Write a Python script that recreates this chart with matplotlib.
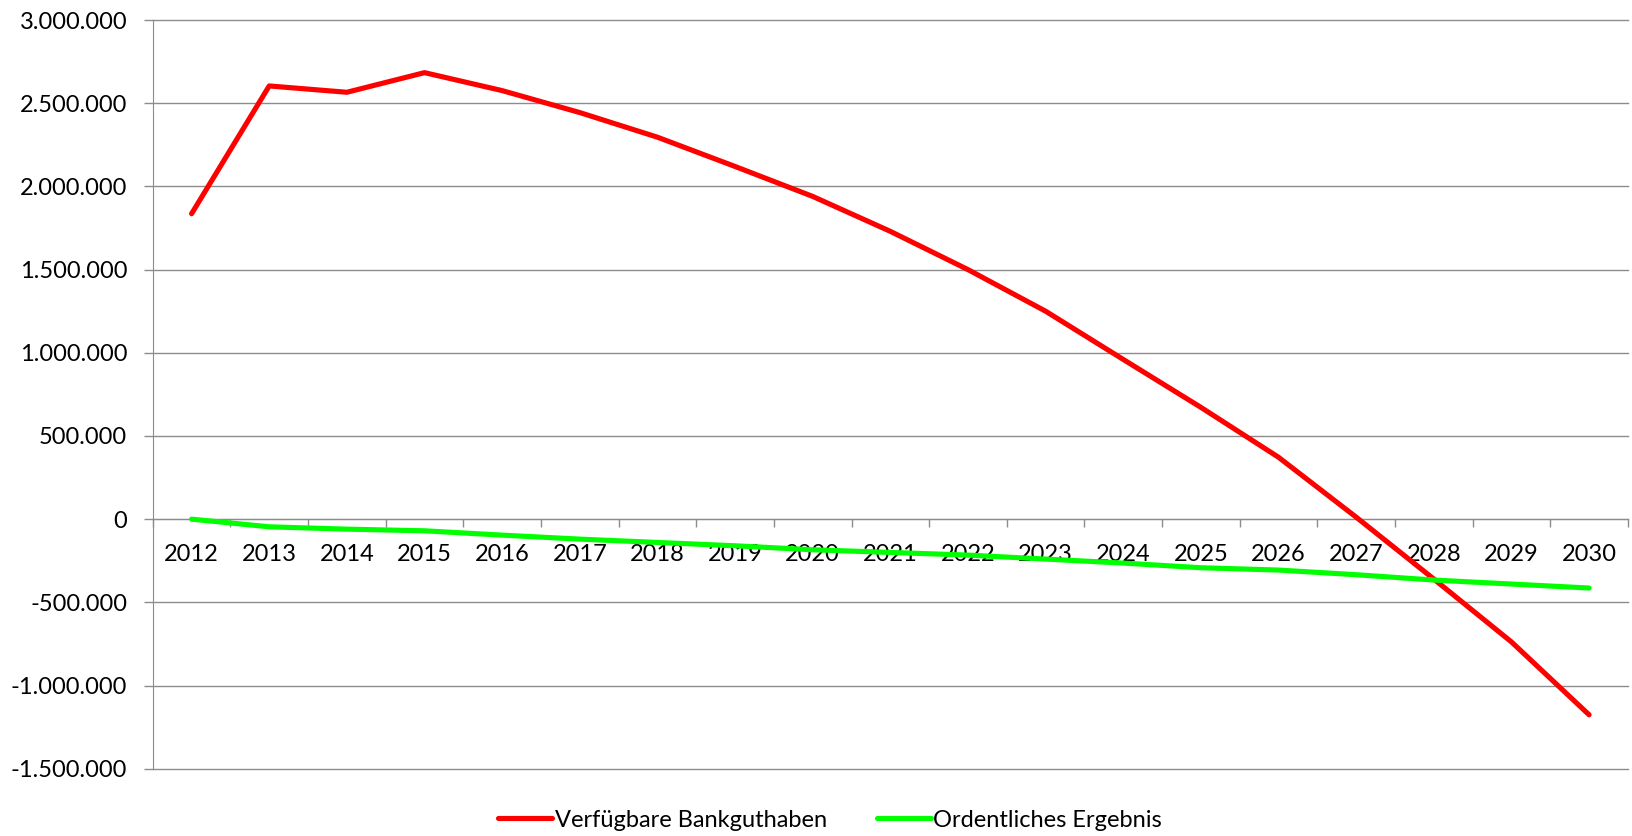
import matplotlib
matplotlib.use("Agg")
import matplotlib.pyplot as plt
from matplotlib.ticker import FuncFormatter, FixedLocator

# data
years = [str(y) for y in range(2012, 2031)]
bankguthaben = [1836000, 2604000, 2566000, 2684000, 2576000, 2444000, 2296000,
                2120000, 1940000, 1730000, 1500000, 1250000, 960000, 672000,
                372000, 12000, -360000, -738000, -1176000]
ergebnis = [0, -46000, -60000, -70000, -96000, -120000, -140000, -160000,
            -184000, -200000, -216000, -240000, -264000, -292000, -306000,
            -334000, -366000, -390000, -414000]
y_ticks = [-1500000, -1000000, -500000, 0, 500000, 1000000, 1500000,
           2000000, 2500000, 3000000]

plt.rcParams['font.family'] = ['Lato', 'DejaVu Sans']
grid_col = '#8c8c8c'


def de_format(v, pos):
    # German thousands separator
    return f"{int(v):,}".replace(",", ".")


fig = plt.figure(figsize=(16.32, 8.36), dpi=100)
ax = fig.add_axes([0.0936, 0.0805, 0.9039, 0.8955])

x = list(range(len(years)))
ax.plot(x, bankguthaben, color='#ff0000', lw=3.7, solid_capstyle='round',
        label='Verfügbare Bankguthaben', zorder=3)
ax.plot(x, ergebnis, color='#00ff00', lw=3.7, solid_capstyle='round',
        label='Ordentliches Ergebnis', zorder=3)

ax.set_xlim(-0.5, len(years) - 0.5)
ax.set_ylim(-1500000, 3000000)

ax.set_yticks(y_ticks)
ax.yaxis.set_major_formatter(FuncFormatter(de_format))
ax.yaxis.grid(True, color=grid_col, lw=1.0)
for gl in ax.get_ygridlines():
    gl.set_clip_on(False)
ax.set_axisbelow(True)
ax.tick_params(axis='y', length=6.5, width=1.0, color=grid_col, pad=12,
               labelsize=17)

# category axis crossing at zero
ax.spines['bottom'].set_position(('data', 0))
ax.spines['bottom'].set_color(grid_col)
ax.spines['left'].set_color(grid_col)
ax.spines['top'].set_visible(False)
ax.spines['right'].set_visible(False)
ax.set_xticks(x)
ax.set_xticklabels(years)
ax.xaxis.set_minor_locator(FixedLocator([i - 0.5 for i in range(len(years) + 1)]))
ax.tick_params(axis='x', which='major', length=0, pad=18, labelsize=17)
ax.tick_params(axis='x', which='minor', length=6, width=1.0, color=grid_col,
               direction='out')

handles, labels = ax.get_legend_handles_labels()
fig.legend(handles, labels, loc='center', bbox_to_anchor=(0.5086, 0.019),
           ncol=2, frameon=False, fontsize=17, handlelength=2.3,
           handletextpad=0.1, columnspacing=2.1)

fig.savefig('out.png', dpi=100)
